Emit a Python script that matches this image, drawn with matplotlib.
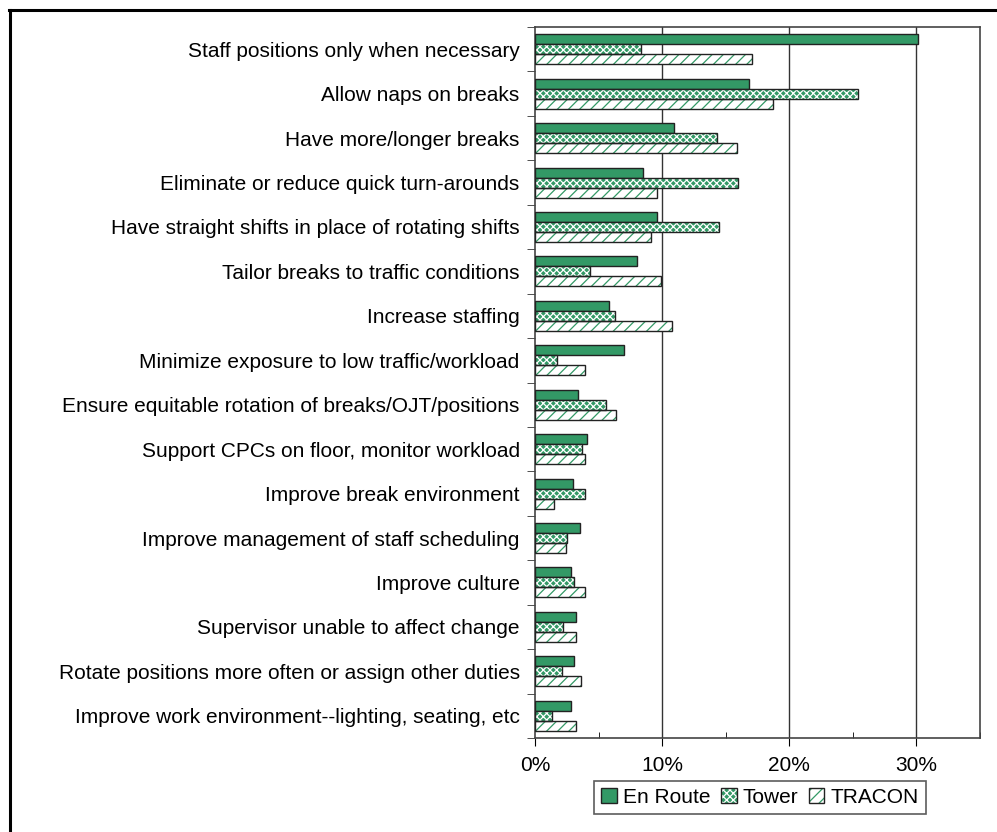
import numpy as np
import matplotlib.pyplot as plt
from matplotlib.lines import Line2D
from matplotlib.patches import Rectangle
from matplotlib.ticker import MultipleLocator, FuncFormatter

plt.rcParams['font.family'] = ['Liberation Sans', 'DejaVu Sans']
plt.rcParams['hatch.linewidth'] = 0.9

categories = [
    'Staff positions only when necessary',
    'Allow naps on breaks',
    'Have more/longer breaks',
    'Eliminate or reduce quick turn-arounds',
    'Have straight shifts in place of rotating shifts',
    'Tailor breaks to traffic conditions',
    'Increase staffing',
    'Minimize exposure to low traffic/workload',
    'Ensure equitable rotation of breaks/OJT/positions',
    'Support CPCs on floor, monitor workload',
    'Improve break environment',
    'Improve management of staff scheduling',
    'Improve culture',
    'Supervisor unable to affect change',
    'Rotate positions more often or assign other duties',
    'Improve work environment--lighting, seating, etc',
]
en_route = [30.1, 16.8, 10.9, 8.5, 9.6, 8.0, 5.8, 7.0, 3.4, 4.1, 3.0, 3.5, 2.8, 3.2, 3.1, 2.8]
tower = [8.3, 25.4, 14.3, 16.0, 14.5, 4.3, 6.3, 1.7, 5.6, 3.7, 3.9, 2.5, 3.1, 2.2, 2.1, 1.3]
tracon = [17.1, 18.7, 15.9, 9.6, 9.1, 9.9, 10.8, 3.9, 6.4, 3.9, 1.5, 2.4, 3.9, 3.2, 3.6, 3.2]

green = '#339966'
edge = '#222222'

fig = plt.figure(figsize=(9.97, 8.32), dpi=100)
ax = fig.add_axes([535 / 997, 1 - 738 / 832, 445 / 997, 711 / 832])

y = np.arange(len(categories))
h = 0.225

# solid
ax.barh(y - h, en_route, height=h, color=green, edgecolor=edge, linewidth=1, zorder=3)
# checkered: green with white cross hatch, outline drawn on top
ax.barh(y, tower, height=h, color=green, edgecolor='white', hatch='xxxxx', linewidth=0, zorder=3)
ax.barh(y, tower, height=h, color='none', edgecolor=edge, linewidth=1, zorder=4)
# diagonal
ax.barh(y + h, tracon, height=h, color='white', edgecolor=green, hatch='///', linewidth=0, zorder=3)
ax.barh(y + h, tracon, height=h, color='none', edgecolor=edge, linewidth=1, zorder=4)

ax.set_xlim(0, 35)
ax.set_ylim(len(categories) - 0.5, -0.5)

ax.set_yticks(y)
ax.set_yticklabels(categories, fontsize=15)
ax.set_yticks(np.arange(len(categories) + 1) - 0.5, minor=True)
ax.tick_params(axis='y', which='major', length=0, pad=11)
ax.tick_params(axis='y', which='minor', length=6, direction='out', color='#333333')

ax.xaxis.set_major_locator(MultipleLocator(10))
ax.xaxis.set_minor_locator(MultipleLocator(5))
ax.xaxis.set_major_formatter(FuncFormatter(lambda v, p: '{:.0f}%'.format(v)))
ax.tick_params(axis='x', which='major', length=6, direction='out', labelsize=15, pad=7)
ax.tick_params(axis='x', which='minor', length=4, direction='in')

for v in [10, 20, 30]:
    ax.axvline(v, color='#333333', linewidth=1, zorder=1)

for s in ax.spines.values():
    s.set_color('#444444')
    s.set_linewidth(1.2)


def outline():
    return Rectangle((0, 0), 1, 1, facecolor='none', edgecolor=edge, linewidth=1)


handles = [
    Rectangle((0, 0), 1, 1, facecolor=green, edgecolor=edge, linewidth=1),
    (Rectangle((0, 0), 1, 1, facecolor=green, edgecolor='white', hatch='xxxxx', linewidth=0), outline()),
    (Rectangle((0, 0), 1, 1, facecolor='white', edgecolor=green, hatch='///', linewidth=0), outline()),
]
leg = fig.legend(handles, ['En Route', 'Tower', 'TRACON'], loc='center',
                 bbox_to_anchor=(760 / 997, 1 - 797.5 / 832), ncol=3, fontsize=15,
                 frameon=True, fancybox=False, edgecolor='#333333',
                 handlelength=0.75, handleheight=0.75, handletextpad=0.3,
                 columnspacing=0.5, borderpad=0.35, borderaxespad=0)
leg.get_frame().set_linewidth(1.2)

# outer frame (cut off at right and bottom)
fig.add_artist(Line2D([9.5 / 997, 9.5 / 997], [0, 1 - 9.5 / 832], transform=fig.transFigure,
                      color='black', linewidth=2.2))
fig.add_artist(Line2D([8.5 / 997, 1], [1 - 9.5 / 832, 1 - 9.5 / 832], transform=fig.transFigure,
                      color='black', linewidth=2.2))

fig.savefig('out.png', dpi=100)
